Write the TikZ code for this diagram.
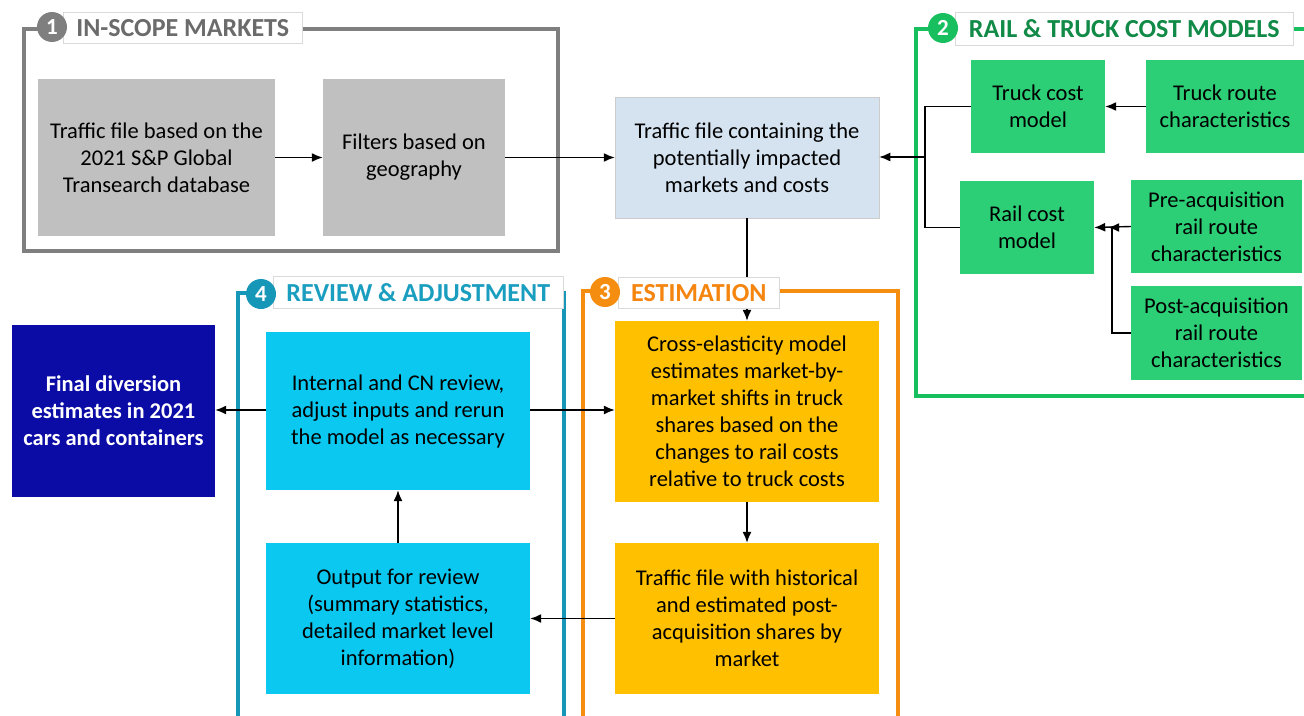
\documentclass[tikz,border=0pt]{standalone}
\usepackage{fontspec}
\setmainfont{Carlito}
\usetikzlibrary{arrows.meta,calc}

% frame colours
\definecolor{grayframe}{HTML}{7F7F7F}
\definecolor{graytitle}{HTML}{6B6B6B}
\definecolor{greenframe}{HTML}{17BF5F}
\definecolor{greentitle}{HTML}{108A46}
\definecolor{tealframe}{HTML}{1697B8}
\definecolor{tealtitle}{HTML}{1A9EC0}
\definecolor{orangeframe}{HTML}{F58D10}
\definecolor{orangetitle}{HTML}{F5850E}
% box fills
\definecolor{greybox}{HTML}{C0C0C0}
\definecolor{paleblue}{HTML}{D5E3F1}
\definecolor{greenbox}{HTML}{2DCF76}
\definecolor{navybox}{HTML}{0B0BA6}
\definecolor{cyanbox}{HTML}{0BC8F0}
\definecolor{amberbox}{HTML}{FFC000}

\begin{document}
\begin{tikzpicture}[x=1pt,y=-1pt,
  box/.style={rectangle, inner sep=0pt, align=center,
    font=\fontsize{22.5}{27}\selectfont, text=black},
  frame/.style={line width=3.5pt},
  tag/.style={draw=black!15, fill=white, line width=0.6pt, inner sep=0pt,
    font=\fontsize{26}{28}\selectfont\bfseries, anchor=north west},
  num/.style={circle, inner sep=0pt, minimum size=30pt, text=white,
    font=\fontsize{23}{23}\selectfont\bfseries},
  link/.style={line width=1.4pt, -{Latex[length=11pt,width=9pt]}},
  wire/.style={line width=1.4pt}
]
\useasboundingbox (0,0) rectangle (1304,715);
\fill[white] (0,0) rectangle (1304,715);

% ---- section frames ----
\draw[frame, grayframe]   (24,29)  rectangle (558,251);
\draw[frame, greenframe]  (916,29) rectangle (1312,396);
\draw[frame, tealframe]   (238,293) rectangle (564,730);
\draw[frame, orangeframe] (583,291) rectangle (898,730);

% ---- boxes ----
\node[box, fill=greybox, minimum width=237pt, minimum height=157pt] (traffic) at (156.5,157.5)
  {Traffic file based on the\\2021 S\&P Global\\Transearch database};
\node[box, fill=greybox, minimum width=182pt, minimum height=157pt] (filters) at (414,157.5)
  {Filters based on\\geography};
\node[box, fill=paleblue, draw=black!20, line width=0.5pt, minimum width=264pt, minimum height=121pt] (impact) at (747,157.5)
  {Traffic file containing the\\potentially impacted\\markets and costs};

\node[box, fill=greenbox, minimum width=134pt, minimum height=93pt] (truckcost) at (1038,106.5)
  {Truck cost\\model};
\node[box, fill=greenbox, minimum width=158pt, minimum height=93pt] (truckroute) at (1225,106.5)
  {Truck route\\characteristics};
\node[box, fill=greenbox, minimum width=134pt, minimum height=93pt] (railcost) at (1027,227.5)
  {Rail cost\\model};
\node[box, fill=greenbox, minimum width=171pt, minimum height=93pt] (preacq) at (1216.5,226.5)
  {Pre-acquisition\\rail route\\characteristics};
\node[box, fill=greenbox, minimum width=171pt, minimum height=94pt] (postacq) at (1216.5,333)
  {Post-acquisition\\rail route\\characteristics};

\node[box, fill=navybox, text=white, font=\fontsize{22.5}{27}\selectfont\bfseries,
  minimum width=203pt, minimum height=172pt] (final) at (113.5,411)
  {Final diversion\\estimates in 2021\\cars and containers};
\node[box, fill=cyanbox, minimum width=264pt, minimum height=158pt] (review) at (398,411)
  {Internal and CN review,\\adjust inputs and rerun\\the model as necessary};
\node[box, fill=cyanbox, minimum width=264pt, minimum height=151pt] (output) at (398,618.5)
  {Output for review\\(summary statistics,\\detailed market level\\information)};
\node[box, fill=amberbox, minimum width=264pt, minimum height=181pt] (crossel) at (747,411.5)
  {Cross-elasticity model\\estimates market-by-\\market shifts in truck\\shares based on the\\changes to rail costs\\relative to truck costs};
\node[box, fill=amberbox, minimum width=264pt, minimum height=151pt] (histshare) at (747,618.5)
  {Traffic file with historical\\and estimated post-\\acquisition shares by\\market};

% ---- connectors ----
\draw[link] (traffic.east) -- (filters.west);
\draw[link] (filters.east) -- (impact.west);
\draw[link] (truckroute.west) -- (truckcost.east);
\draw[link] (preacq.west) -- (railcost.east);
\coordinate (postjoin) at ($(railcost.east)+(14,0)$);
\draw[link] (postacq.west) -- ++(-19,0) |- (postjoin);
\coordinate (modeljoin) at (925,157);
\draw[wire] (truckcost.west) -| (modeljoin) |- (railcost.west);
\draw[link] (modeljoin) -- (modeljoin -| impact.east);
\draw[link] (impact.south) -- (crossel.north);
\draw[link] (crossel.south) -- (histshare.north);
\draw[link] (histshare.west) -- (output.east);
\draw[link] (output.north) -- (review.south);
\draw[link] (review.east |- 0,410) -- (crossel.west |- 0,410);
\draw[link] (review.west |- 0,410) -- (final.east |- 0,410);

% ---- section titles ----
\node[tag, text=graytitle, minimum width=239pt, minimum height=31pt] (tag1) at (63,12) {IN-SCOPE MARKETS};
\node[num, fill=grayframe] (num1) at (52,27) {1};

\node[tag, text=greentitle, minimum width=338pt, minimum height=33pt] (tag2) at (955,12) {RAIL \& TRUCK COST MODELS};
\node[num, fill=greenframe] (num2) at (943,28) {2};

\node[tag, text=tealtitle, minimum width=290pt, minimum height=32pt] (tag4) at (273,276) {REVIEW \& ADJUSTMENT};
\node[num, fill=tealframe] (num4) at (261,294) {4};

\node[tag, text=orangetitle, minimum width=161pt, minimum height=31pt] (tag3) at (618,277) {ESTIMATION};
\node[num, fill=orangeframe] (num3) at (605,292) {3};
\end{tikzpicture}
\end{document}
